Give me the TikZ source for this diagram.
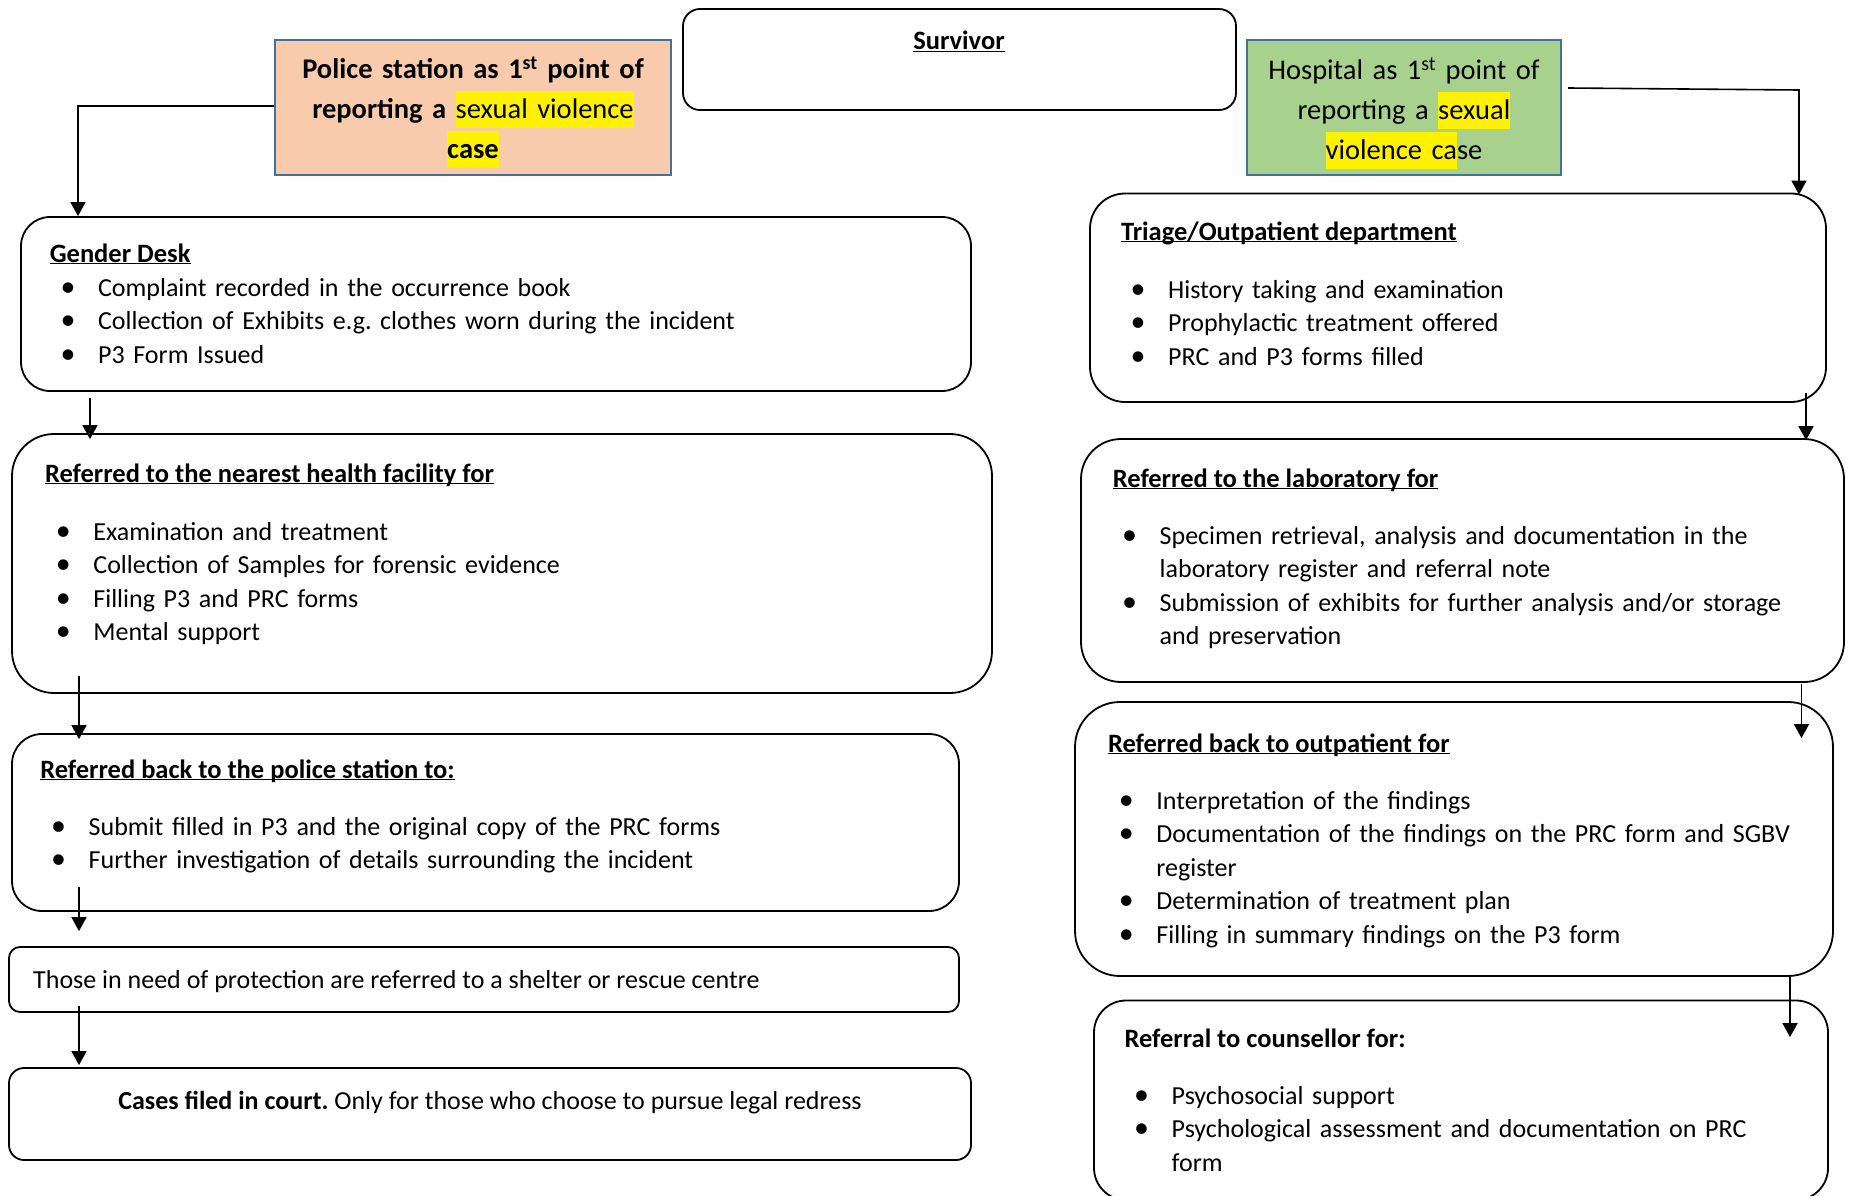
\documentclass[tikz,border=0pt]{standalone}
\usepackage{fontspec}
\setmainfont{Carlito}
\usetikzlibrary{arrows.meta,calc}
\frenchspacing

\definecolor{peach}{HTML}{F8CBAD}
\definecolor{leaf}{HTML}{A9D18E}
\definecolor{frameblue}{HTML}{41719C}

% list bullet and hanging indent for wrapped lines
\newcommand\bul{\makebox[29.5pt][l]{\hspace*{-8pt}\scalebox{1.15}{\textbullet}}}
\newcommand\cont{\hspace*{29.5pt}}
% underline at a fixed depth below the baseline
\newcommand\ulin[1]{\underline{\smash{#1}}}
% yellow text highlight
\newcommand\hlt[1]{{\setlength{\fboxsep}{0pt}\colorbox{yellow}{\rule[-9pt]{0pt}{37pt}#1}}}
% rounded box from its corners: name, x1, y1, x2, y2, radius
\newcommand\flowrect[6]{\node[flowbox, rounded corners=#6pt,
  minimum width={(#4-#2)*1pt}, minimum height={(#5-#3)*1pt}]
  (#1) at ({(#2+#4)/2},{(#3+#5)/2}) {};}

\tikzset{
  flowbox/.style={draw, line width=1.8pt, inner sep=0pt, shape=rectangle},
  startbox/.style={draw=frameblue, line width=2pt, inner sep=0pt, shape=rectangle},
  body/.style={inner sep=0pt, anchor=base west, font=\fontsize{26}{33.6}\selectfont},
  list/.style={body, text width=760pt, align=left},
  heading/.style={body, font=\fontsize{26.5}{33.6}\selectfont\bfseries},
  starttext/.style={inner sep=0pt, anchor=base, text width=390pt, align=center},
  arr/.style={line width=1.6pt, -{Triangle[length=14pt,width=15pt]}},
}

\begin{document}
\begin{tikzpicture}[x=1pt, y=-1pt]
\useasboundingbox (0,0) rectangle (1850,1196);
\clip (0,0) rectangle (1850,1196);

% ---------- top row ----------
\flowrect{survivor}{683}{9}{1236}{110}{17}
\node[heading, anchor=base] (survivor-text) at (959,50) {\ulin{Survivor}};

\node[startbox, fill=peach, minimum width=396pt, minimum height=135pt] (police) at (473,107.5) {};
\node[starttext, font=\fontsize{28.5}{40}\selectfont\bfseries] (police-text) at (473,79)
  {Police station as 1\textsuperscript{st} point of\\
   reporting a \hlt{\mdseries sexual violence}\\
   \hlt{case}};

\node[startbox, fill=leaf, minimum width=314pt, minimum height=135pt] (hospital) at (1404,107.5) {};
\node[starttext, font=\fontsize{28.5}{40}\selectfont] (hospital-text) at (1404,80)
  {Hospital as 1\textsuperscript{st} point of\\
   reporting a \hlt{sexual}\\
   \hlt{violence ca}se};

% ---------- police pathway ----------
\flowrect{gender}{21}{217}{971}{391}{29}
\node[heading] (gender-title) at (49.6,262) {\ulin{Gender Desk}};
\node[list] (gender-list) at (68.4,296)
  {\bul Complaint recorded in the occurrence book\\
   \bul Collection of Exhibits e.g. clothes worn during the incident\\
   \bul P3 Form Issued};

\flowrect{facility}{12}{434}{992}{693}{42}
\node[heading] (facility-title) at (44.8,482) {\ulin{Referred to the nearest health facility for}};
\node[list] (facility-list) at (63.7,540)
  {\bul Examination and treatment\\
   \bul Collection of Samples for forensic evidence\\
   \bul Filling P3 and PRC forms\\
   \bul Mental support};

\flowrect{backpolice}{12}{734}{959}{911}{30}
\node[heading] (backpolice-title) at (40.1,778) {\ulin{Referred back to the police station to:}};
\node[list] (backpolice-list) at (59,835)
  {\bul Submit filled in P3 and the original copy of the PRC forms\\
   \bul Further investigation of details surrounding the incident};

\flowrect{shelter}{9}{947}{959}{1012}{11}
\node[body] (shelter-text) at (33,988) {Those in need of protection are referred to a shelter or rescue centre};

\flowrect{court}{9}{1068}{971}{1160}{15}
\node[body, anchor=base] (court-text) at (490,1109)
  {\textbf{Cases filed in court.} Only for those who choose to pursue legal redress};

% ---------- hospital pathway ----------
\flowrect{triage}{1090}{193.5}{1826}{402}{35}
\node[heading] (triage-title) at (1120.8,240) {\ulin{Triage/Outpatient department}};
\node[list] (triage-list) at (1138.5,298)
  {\bul History taking and examination\\
   \bul Prophylactic treatment offered\\
   \bul PRC and P3 forms filled};

\flowrect{lab}{1081}{439}{1844}{682}{40}
\node[heading] (lab-title) at (1112.6,487) {\ulin{Referred to the laboratory for}};
\node[list] (lab-list) at (1130,544)
  {\bul Specimen retrieval, analysis and documentation in the\\
   \cont laboratory register and referral note\\
   \bul Submission of exhibits for further analysis and/or storage\\
   \cont and preservation};

\flowrect{outpatient}{1075}{702}{1833}{976}{45}
\node[heading] (outpatient-title) at (1107.8,752) {\ulin{Referred back to outpatient for}};
\node[list] (outpatient-list) at (1126.7,809)
  {\bul Interpretation of the findings\\
   \bul Documentation of the findings on the PRC form and SGBV\\
   \cont register\\
   \bul Determination of treatment plan\\
   \bul Filling in summary findings on the P3 form};

\flowrect{counsellor}{1094}{1000.5}{1828}{1200}{32}
\node[heading] (counsellor-title) at (1124.3,1047) {Referral to counsellor for:};
\node[list] (counsellor-list) at (1142,1104)
  {\bul Psychosocial support\\
   \bul Psychological assessment and documentation on PRC\\
   \cont form};

% ---------- connectors ----------
\coordinate (policeturn) at (78,106);
\draw[arr] (police.west |- policeturn) -| (policeturn |- gender.north);

\coordinate (hospitalout) at (1568,88);
\coordinate (hospitalturn) at (1799,90);
\draw[arr] (hospitalout) -- (hospitalturn) -- ($(hospitalturn |- triage.north)+(0,2)$);

\coordinate (genderout) at (90,398);
\draw[arr] (genderout) -- ($(genderout |- facility.north)+(0,6)$);

\coordinate (facilityout) at (79,676);
\draw[arr] (facilityout) -- ($(facilityout |- backpolice.north)+(0,6)$);

\coordinate (backpoliceout) at (79,887);
\coordinate (shelterin) at ($(backpoliceout |- shelter.north)+(0,-15)$);
\draw[arr] (backpoliceout) -- (shelterin);

\coordinate (shelterout) at (79,1006);
\draw[arr] (shelterout) -- ($(shelterout |- court.north)+(0,-2)$);

\coordinate (triageout) at (1806,393);
\draw[arr] (triageout) -- ($(triageout |- lab.north)+(0,2)$);

\coordinate (labout) at (1801.5,684);
\draw[arr] (labout) -- ($(labout |- outpatient.north)+(0,37)$);

\coordinate (outpatientout) at (1790,976);
\draw[arr] (outpatientout) -- ($(outpatientout |- counsellor.north)+(0,37.5)$);
\end{tikzpicture}
\end{document}
